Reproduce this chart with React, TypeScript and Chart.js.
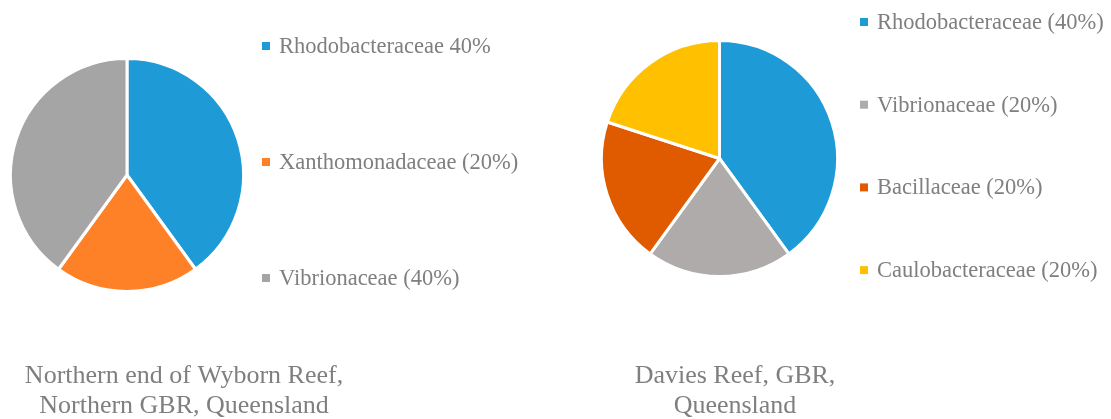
import React, { useEffect, useRef } from "react";
import { Chart, registerables } from "chart.js";

Chart.register(...registerables);

// ---- Data ----
const leftLabels = ["Rhodobacteraceae 40%", "Xanthomonadaceae (20%)", "Vibrionaceae (40%)"];
const leftValues = [40, 20, 40];
const leftColors = ["#1E9BD7", "#FE8127", "#A5A5A5"];
const leftCaption = ["Northern end of Wyborn Reef,", "Northern GBR, Queensland"];

const rightLabels = ["Rhodobacteraceae (40%)", "Vibrionaceae (20%)", "Bacillaceae (20%)", "Caulobacteraceae (20%)"];
const rightValues = [40, 20, 20, 20];
const rightColors = ["#1E9BD7", "#AFABAB", "#E05A00", "#FFC000"];
const rightCaption = ["Davies Reef, GBR,", "Queensland"];

const TEXT_COLOR = "#7F7F7F";
const FONT = "'Liberation Serif', 'Times New Roman', serif";

// Custom legend + caption plugin
const annotatePlugin = {
  id: "annotate",
  afterDraw(chart: any, _args: any, opts: any) {
    const ctx = chart.ctx;
    ctx.save();
    // legend
    const labels = chart.data.labels as string[];
    const colors = chart.data.datasets[0].backgroundColor as string[];
    ctx.font = `${opts.legendFontSize}px ${FONT}`;
    ctx.textBaseline = "middle";
    ctx.textAlign = "left";
    labels.forEach((lab, i) => {
      const y = opts.legendTop + i * opts.legendStep;
      ctx.fillStyle = colors[i];
      ctx.fillRect(opts.legendX, y - 4, 8, 8);
      ctx.fillStyle = TEXT_COLOR;
      ctx.fillText(lab, opts.legendX + 17, y + 1);
    });
    // caption
    ctx.font = `${opts.captionFontSize}px ${FONT}`;
    ctx.textAlign = "center";
    (opts.caption as string[]).forEach((line, i) => {
      ctx.fillStyle = TEXT_COLOR;
      ctx.fillText(line, opts.captionX, opts.captionY + i * opts.captionStep);
    });
    ctx.restore();
  },
};

function PieChart(props: {
  labels: string[];
  values: number[];
  colors: string[];
  width: number;
  height: number;
  padding: { left: number; top: number; right: number; bottom: number };
  annotate: any;
}) {
  const ref = useRef<HTMLCanvasElement>(null);
  useEffect(() => {
    if (!ref.current) return;
    const chart = new Chart(ref.current, {
      type: "pie",
      data: {
        labels: props.labels,
        datasets: [
          {
            data: props.values,
            backgroundColor: props.colors,
            borderColor: "#FFFFFF",
            borderWidth: 3,
          },
        ],
      },
      options: {
        responsive: false,
        animation: false,
        layout: { padding: props.padding },
        plugins: {
          legend: { display: false },
          tooltip: { enabled: false },
          annotate: props.annotate,
        } as any,
      },
      plugins: [annotatePlugin],
    });
    return () => chart.destroy();
  }, []);
  return <canvas ref={ref} width={props.width} height={props.height} style={{ display: "block", width: props.width, height: props.height }} />;
}

export default function App() {
  return (
    <div style={{ position: "fixed", left: 0, top: 0, width: 1111, height: 419, background: "#fff" }}>
      <div style={{ position: "absolute", left: 0, top: 0 }}>
        <PieChart
          labels={leftLabels}
          values={leftValues}
          colors={leftColors}
          width={560}
          height={419}
          padding={{ left: 9, top: 57, right: 315, bottom: 126 }}
          annotate={{
            legendX: 262,
            legendTop: 46,
            legendStep: 116,
            legendFontSize: 22.5,
            caption: leftCaption,
            captionX: 184,
            captionY: 376,
            captionStep: 30,
            captionFontSize: 26,
          }}
        />
      </div>
      <div style={{ position: "absolute", left: 560, top: 0 }}>
        <PieChart
          labels={rightLabels}
          values={rightValues}
          colors={rightColors}
          width={551}
          height={419}
          padding={{ left: 40, top: 39, right: 272, bottom: 141 }}
          annotate={{
            legendX: 300,
            legendTop: 22,
            legendStep: 82.7,
            legendFontSize: 22.5,
            caption: rightCaption,
            captionX: 175,
            captionY: 376,
            captionStep: 30,
            captionFontSize: 26,
          }}
        />
      </div>
    </div>
  );
}
